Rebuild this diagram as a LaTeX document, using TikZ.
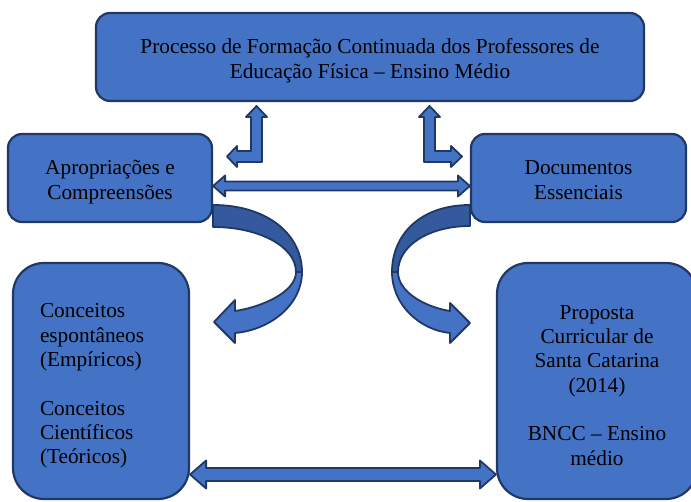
\documentclass[tikz,border=0pt]{standalone}
\usepackage{fontspec}
\setmainfont{Liberation Serif}
\usepackage{tikz}
\usetikzlibrary{arrows}

\definecolor{boxblue}{HTML}{4472C4}
\definecolor{shadeblue}{HTML}{34599C}
\definecolor{navy}{HTML}{203864}

\begin{document}
\begin{tikzpicture}[x=1pt,y=-1pt,line join=round,
                    font=\fontsize{21.3}{24.3}\selectfont]

  \tikzstyle{box}=[rectangle,rounded corners=14pt,draw=navy,line width=2.2pt,
                   fill=boxblue,align=center,inner sep=0pt,
                   text height=42.5pt,text depth=0pt]
  \tikzstyle{bigbox}=[box,rounded corners=31pt]
  \tikzstyle{blockarrow}=[draw=navy,line width=1.8pt,fill=boxblue]

  \useasboundingbox (0,0) rectangle (691,502);

  % curved arrows (drawn first, the boxes cover their ends)
  \filldraw[blockarrow,fill=shadeblue]
    (213,205) .. controls (268,205) and (302,235) .. (302,272)
    -- (296,272) .. controls (296,247) and (260,227) .. (213,227) -- cycle;
  \filldraw[blockarrow]
    (302,272) .. controls (302,305) and (270,330) .. (235,333)
    -- (235,343) -- (214,322) -- (235,300) -- (235,311)
    .. controls (262,307) and (296,292) .. (296,272) -- cycle;

  \filldraw[blockarrow,fill=shadeblue]
    (470,205) .. controls (420,205) and (392,235) .. (392,272)
    -- (398,272) .. controls (398,245) and (430,226) .. (470,226) -- cycle;
  \filldraw[blockarrow]
    (392,272) .. controls (392,305) and (420,330) .. (450,333)
    -- (450,343) -- (470,323) -- (450,303) -- (450,311)
    .. controls (425,307) and (398,292) .. (398,272) -- cycle;

  \node[box,minimum width=548pt,minimum height=88pt] (PFC) at (370,57)
    {Processo de Formação Continuada dos Professores de\\Educação Física -- Ensino Médio};

  \node[box,minimum width=204pt,minimum height=88pt] (APC) at (110,178)
    {Apropriações e\\Compreensões};
  \node[box,minimum width=215pt,minimum height=88pt] (DOC) at (578.5,178)
    {Documentos\\Essenciais};

  \node[bigbox,minimum width=176pt,minimum height=236pt,text width=122pt,
        align=left,text height=0pt,text depth=126pt] (CON) at (101,381)
    {Conceitos\\espontâneos\\(Empíricos)\\[24.3pt]Conceitos\\Científicos\\(Teóricos)};
  \node[bigbox,minimum width=200pt,minimum height=236pt,
        text height=168pt] (PRO) at (597,381)
    {Proposta\\Curricular de\\Santa Catarina\\(2014)\\[24.3pt]BNCC -- Ensino\\médio};

  % bent arrows under the top box
  \filldraw[blockarrow]
    (256.5,106) -- (267,117) -- (262,117) -- (262,162) -- (237,162) -- (237,167)
    -- (227,156.5) -- (237,146) -- (237,151) -- (251,151) -- (251,117)
    -- (246,117) -- cycle;
  \filldraw[blockarrow]
    (429.5,106) -- (440,117) -- (435,117) -- (435,151) -- (451,151) -- (451,146)
    -- (462,156.5) -- (451,167) -- (451,162) -- (424,162) -- (424,117)
    -- (419,117) -- cycle;

  % double arrows between the boxes
  \filldraw[blockarrow]
    (APC.east |- 0,186) -- ++(12,-10.5) -- ++(0,6) -| ([xshift=-12pt]DOC.west |- 0,181.5)
    -- ++(0,-6) -- (DOC.west |- 0,186) -- ++(-12,10.5) -- ++(0,-6)
    -| ([xshift=12pt]APC.east |- 0,190.5) -- ++(0,6) -- cycle;
  \filldraw[blockarrow]
    (CON.east |- 0,474.5) -- ++(16,-14) -- ++(0,7.5) -| ([xshift=-16pt]PRO.west |- 0,468)
    -- ++(0,-7.5) -- (PRO.west |- 0,474.5) -- ++(-16,14) -- ++(0,-7.5)
    -| ([xshift=16pt]CON.east |- 0,481) -- ++(0,7.5) -- cycle;

\end{tikzpicture}
\end{document}
